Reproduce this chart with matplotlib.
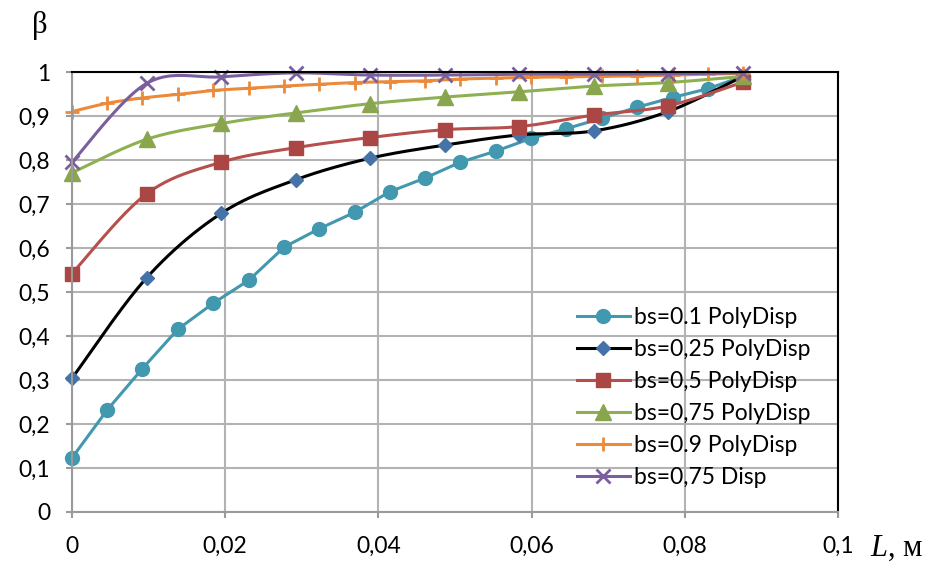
import numpy as np
import matplotlib.pyplot as plt
from matplotlib.ticker import FuncFormatter, MultipleLocator

# bs=0.1 PolyDisp
x_01 = [0, 0.0046, 0.0092, 0.0138, 0.0184, 0.0231, 0.0277, 0.0323, 0.0369, 0.0415,
        0.0461, 0.0507, 0.0553, 0.0599, 0.0645, 0.0692, 0.0738, 0.0784, 0.083, 0.0876]
y_01 = [0.123, 0.232, 0.326, 0.415, 0.474, 0.527, 0.602, 0.644, 0.681, 0.728,
        0.759, 0.795, 0.82, 0.849, 0.871, 0.895, 0.92, 0.942, 0.962, 0.99]

# the other series share the coarse grid
x_coarse = [0, 0.00973, 0.0195, 0.0292, 0.0389, 0.0487, 0.0584, 0.0681, 0.0778, 0.0876]
y_025 = [0.304, 0.532, 0.679, 0.755, 0.804, 0.834, 0.857, 0.866, 0.91, 0.99]
y_05 = [0.542, 0.723, 0.795, 0.828, 0.851, 0.869, 0.876, 0.902, 0.923, 0.977]
y_075 = [0.771, 0.847, 0.883, 0.907, 0.928, 0.943, 0.955, 0.968, 0.976, 0.99]
y_075d = [0.795, 0.974, 0.989, 0.998, 0.993, 0.993, 0.995, 0.995, 0.996, 0.998]

# bs=0.9 PolyDisp
x_09 = x_01
y_09 = [0.91, 0.929, 0.941, 0.949, 0.958, 0.963, 0.968, 0.972, 0.976, 0.978,
        0.98, 0.984, 0.986, 0.988, 0.989, 0.99, 0.991, 0.993, 0.995, 0.997]

labels = ['bs=0.1 PolyDisp', 'bs=0,25 PolyDisp', 'bs=0,5 PolyDisp',
          'bs=0,75 PolyDisp', 'bs=0.9 PolyDisp', 'bs=0,75 Disp']


# Excel-like smoothed line through the points (bezier, catmull-rom tangents)
def smooth(x, y, n=25):
    pts = np.column_stack([x, y]).astype(float)
    out = [pts[0]]
    t = np.linspace(0, 1, n)[1:, None]
    for i in range(len(pts) - 1):
        p0 = pts[max(i - 1, 0)]
        p1 = pts[i]
        p2 = pts[i + 1]
        p3 = pts[min(i + 2, len(pts) - 1)]
        c1 = p1 + (p2 - p0) / 6
        c2 = p2 - (p3 - p1) / 6
        seg = (1 - t) ** 3 * p1 + 3 * (1 - t) ** 2 * t * c1 + 3 * (1 - t) * t ** 2 * c2 + t ** 3 * p2
        out.extend(seg)
    out = np.array(out)
    return out[:, 0], out[:, 1]


plt.rcParams['font.family'] = ['Lato', 'DejaVu Sans']

fig = plt.figure(figsize=(9.45, 5.68), dpi=100)
ax = fig.add_axes([72 / 945, 1 - 512 / 568, 766 / 945, 440 / 568])

series = [
    (x_01, y_01, labels[0], '#4198AF', '#4198AF', 'o', 10, False),
    (x_coarse, y_025, labels[1], 'black', '#4572A7', 'D', 7.5, True),
    (x_coarse, y_05, labels[2], '#B5504D', '#AA4643', 's', 10, True),
    (x_coarse, y_075, labels[3], '#8FB050', '#89A54E', '^', 11, True),
    (x_09, y_09, labels[4], '#EA8A3A', '#EA8A3A', '+', 10, True),
    (x_coarse, y_075d, labels[5], '#7A5E9E', '#7A5E9E', 'x', 10, True),
]

handles = []
for xs, ys, lab, lc, mc, mk, ms, sm in series:
    if sm:
        sx, sy = smooth(xs, ys)
    else:
        sx, sy = xs, ys
    ax.plot(sx, sy, color=lc, lw=2.2, clip_on=False, solid_capstyle='round')
    ax.plot(xs, ys, ls='none', marker=mk, ms=ms, mfc=mc, mec=mc, mew=2 if mk in '+x' else 1,
            clip_on=False)
    h, = ax.plot([], [], color=lc, lw=2.2, marker=mk, ms=ms, mfc=mc, mec=mc,
                 mew=2 if mk in '+x' else 1)
    handles.append(h)

ax.set_xlim(0, 0.1)
ax.set_ylim(0, 1)
ax.xaxis.set_major_locator(MultipleLocator(0.02))
ax.yaxis.set_major_locator(MultipleLocator(0.1))
fmt = FuncFormatter(lambda v, p: ('%g' % round(v, 4)).replace('.', ','))
ax.xaxis.set_major_formatter(fmt)
ax.yaxis.set_major_formatter(fmt)

ax.grid(True, color='#B3B3B3', lw=1.5)
ax.set_axisbelow(True)
for s in ['left', 'bottom']:
    ax.spines[s].set_color('#9A9A9A')
    ax.spines[s].set_linewidth(1.5)
for s in ['top', 'right']:
    ax.spines[s].set_color('black')
    ax.spines[s].set_linewidth(1.5)
ax.tick_params(axis='both', direction='out', length=4.5, width=1.5, color='#9A9A9A',
               labelsize=16.5)
ax.tick_params(axis='x', pad=13)
ax.tick_params(axis='y', pad=11)
ax.tick_params(top=False, right=False)

fig.legend(handles, labels, loc='center left', bbox_to_anchor=(577 / 945, 1 - 398 / 568),
           frameon=False, fontsize=16.5, handlelength=2.3, handletextpad=0.2,
           labelspacing=0.48, borderpad=0, borderaxespad=0)

fig.text(40 / 945, 1 - 25 / 568, 'β', family='Liberation Serif', fontsize=22,
         ha='center', va='center')
fig.text(870 / 945, 1 - 548 / 568, 'L', family='Liberation Serif', style='italic',
         fontsize=22, ha='left', va='center')
fig.text(888 / 945, 1 - 548 / 568, ', м', family='Liberation Serif', fontsize=22,
         ha='left', va='center')

fig.savefig('out.png', dpi=100)
